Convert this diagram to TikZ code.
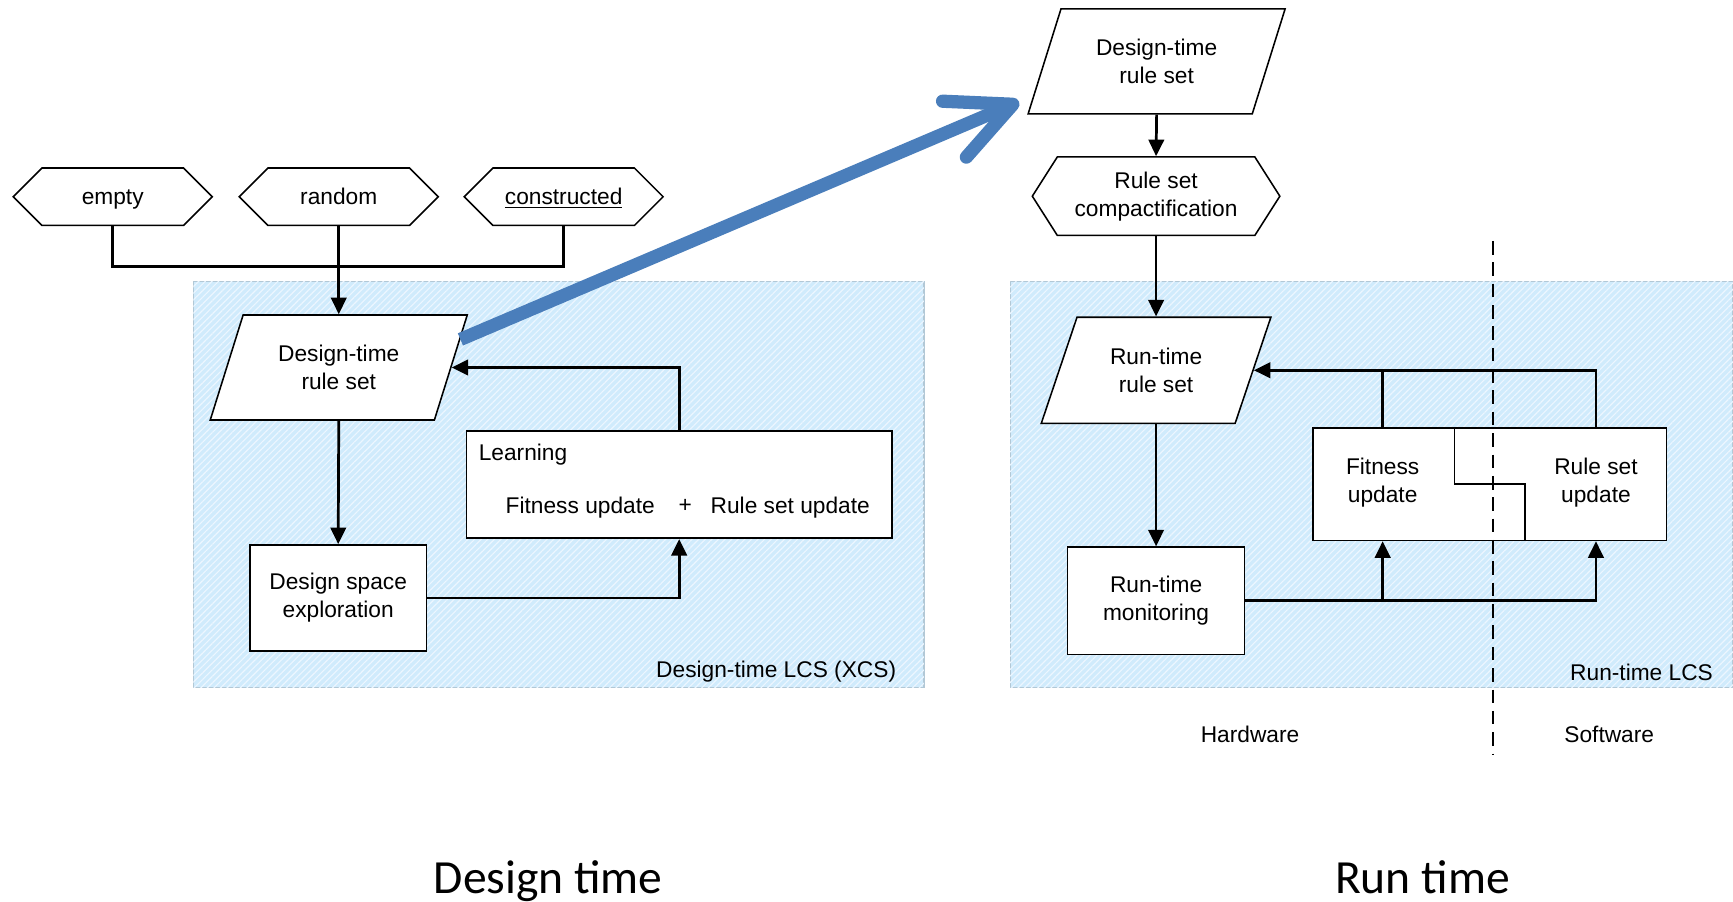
\documentclass[tikz,border=0pt]{standalone}
\usepackage{fontspec}
\setmainfont{Liberation Sans}
\newfontfamily\titlefont{Carlito}
\usetikzlibrary{shapes.geometric,shapes.symbols,arrows.meta,patterns.meta}
\definecolor{azzurro}{RGB}{208,235,252}
\definecolor{righe}{RGB}{236,246,255}
\definecolor{bordoreg}{RGB}{178,200,214}
\definecolor{blufreccia}{RGB}{74,126,187}

\begin{document}
\begin{tikzpicture}[x=0.02cm,y=-0.02cm,
    font=\fontsize{11.7}{14.4}\selectfont,
    blocco/.style={draw,line width=0.8pt,fill=white,inner sep=0pt,align=center},
    esagono/.style={blocco,shape=signal,signal to=east and west,signal pointer angle=90},
    dati/.style={blocco,trapezium,trapezium left angle=65,trapezium right angle=115,trapezium stretches=true},
    linea/.style={line width=1.4pt},
    freccia/.style={linea,-{Triangle[length=0.3cm,width=0.28cm]}},
    regione/.style={draw=bordoreg,line width=0.6pt,fill=azzurro,
        postaction={pattern={Lines[angle=45,distance=2.4pt,line width=0.6pt]},pattern color=righe}},
    grossa/.style={line width=0.24cm,blufreccia,-{Straight Barb[length=1.15cm,width=1.1cm,round]}},
    tratteggio/.style={line width=0.9pt,dash pattern=on 7pt off 4pt}]
    \useasboundingbox (0,0) rectangle (1568,816);

    % regioni colorate
    \draw[regione] (175,255) rectangle (836,622);
    \draw[regione] (914,255) rectangle (1568,622);
    \node[anchor=east] (lcsdesign) at (817,608) {Design-time LCS (XCS)};
    \node[anchor=east] (lcsrun) at (1556,608) {Run-time LCS};

    % sorgenti del rule set
    \node[esagono,minimum width=3.6cm,minimum height=1.04cm,text height=1.9ex,text depth=0.4ex] (empty) at (102,178) {empty};
    \node[esagono,minimum width=3.6cm,minimum height=1.04cm,text height=1.9ex,text depth=0.4ex] (random) at (306.5,178) {random};
    \node[esagono,minimum width=3.6cm,minimum height=1.04cm,text height=1.9ex,text depth=0.4ex] (constructed) at (510,178) {\underline{constructed}};

    % lato design time
    \node[dati,minimum width=4.66cm,minimum height=1.9cm] (dtrs) at (306.5,332.5) {Design-time\\rule set};
    \node[blocco,minimum width=3.2cm,minimum height=1.92cm] (dse) at (306,541) {Design space\\exploration};
    \node[blocco,minimum width=7.7cm,minimum height=1.94cm] (learn) at (614.5,438.5) {};
    \node[anchor=west] (learntitle) at (427,411) {Learning};
    \node (fitl) at (525,459) {Fitness update};
    \node (plus) at (620,458) {+};
    \node (rsl) at (715,459) {Rule set update};

    % lato run time
    \node[dati,minimum width=4.66cm,minimum height=1.9cm] (ddt) at (1046.5,55.5) {Design-time\\rule set};
    \node[esagono,signal pointer angle=115,minimum width=4.48cm,minimum height=1.42cm] (compact) at (1046,177.5) {Rule set\\compactification};
    \node[dati,minimum width=4.16cm,minimum height=1.92cm] (rtrs) at (1046,335) {Run-time\\rule set};
    \node[blocco,minimum width=3.2cm,minimum height=1.94cm] (mon) at (1046,543.5) {Run-time\\monitoring};
    \node[blocco,minimum width=6.4cm,minimum height=2.04cm] (upd) at (1348,438) {};
    \node[align=center] (fitupd) at (1251,437) {Fitness\\update};
    \node[align=center] (rsupd) at (1444,437) {Rule set\\update};
    \draw[line width=0.8pt] ([xshift=-0.64cm]upd.north) |- ([xshift=0.64cm]upd.center) -- ([xshift=0.64cm]upd.south);

    \node (hw) at (1131,664) {Hardware};
    \node (sw) at (1456,664) {Software};

    % collegamenti sinistra
    \draw[linea] (empty.south) |- (random.south |- 0,241) -| (constructed.south);
    \draw[freccia] (random.south) -- (random.south |- dtrs.north);
    \draw[freccia] (dtrs.center |- dtrs.south) -- (dse.north);
    \draw[freccia] (dse.east) -| (learn.south);
    \draw[freccia] (learn.north) |- (dtrs.east);

    % collegamenti destra
    \draw[freccia] (ddt.center |- ddt.south) -- (compact.north);
    \draw[freccia] (compact.south) -- (rtrs.center |- rtrs.north);
    \draw[freccia] (rtrs.center |- rtrs.south) -- (mon.north);
    \draw[freccia] (mon.east) -| (fitupd |- upd.south);
    \draw[freccia] (mon.east) -| (rsupd |- upd.south);
    \draw[freccia] (rsupd |- upd.north) |- (rtrs.east);
    \draw[linea] (fitupd |- upd.north) -- (fitupd |- rtrs.east);

    % freccia blu
    \coordinate (punta) at (922,92);
    \draw[grossa] (dtrs.13) -- (punta);

    % divisione hardware / software
    \coordinate (divtop) at (1351,218);
    \coordinate (divbot) at (1351,682);
    \draw[tratteggio] (divtop) -- (divbot);

    % titoli
    \node[anchor=base,font=\titlefont\fontsize{24.5}{28}\selectfont] (tdesign) at (496,808) {Design time};
    \node[anchor=base,font=\titlefont\fontsize{24.5}{28}\selectfont] (trun) at (1287,808) {Run time};
\end{tikzpicture}
\end{document}
